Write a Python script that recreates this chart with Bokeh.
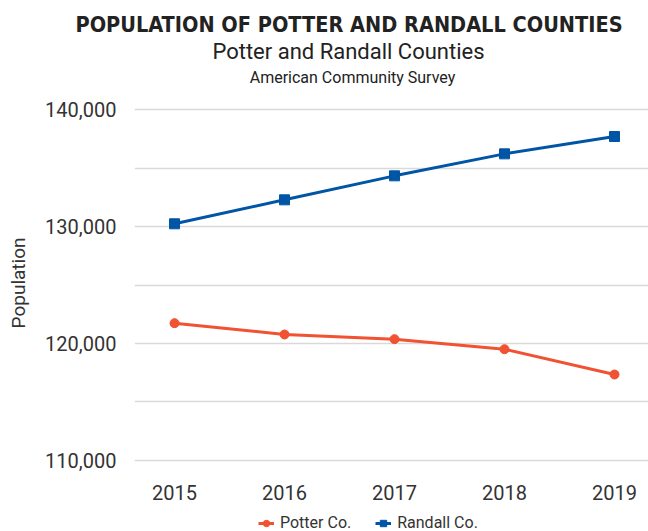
from bokeh.plotting import figure
from bokeh.models import (Range1d, FixedTicker, NumeralTickFormatter, Label, Title, Legend, LegendItem)
from bokeh.layouts import column
from bokeh.embed import file_html
from bokeh.resources import INLINE

years = [2015, 2016, 2017, 2018, 2019]
potter = [121735, 120770, 120370, 119510, 117350]
randall = [130230, 132280, 134330, 136210, 137690]
y_ticks = [110000, 120000, 130000, 140000]
y_minor = [115000, 125000, 135000]
series_names = ["Potter Co.", "Randall Co."]

title = "POPULATION OF POTTER AND RANDALL COUNTIES"
subtitle = "Potter and Randall Counties"
source = "American Community Survey"

POTTER_C = "#F05232"
RANDALL_C = "#0055A5"
FONT = "Roboto"
TXT = "#333333"

W = 648
LEFT = 134  # frame left offset shared by the column's aligned frames

# ---- header (titles) ----
top = figure(width=W, height=95, output_backend="svg", toolbar_location=None,
             x_range=Range1d(0, 1), y_range=Range1d(0, 1),
             x_axis_location=None, y_axis_location=None,
             min_border=0, min_border_left=0, min_border_right=0,
             min_border_top=36, min_border_bottom=0)
top.outline_line_color = None
top.xgrid.visible = False
top.ygrid.visible = False
top.add_layout(Title(text=title, align="left", offset=-59, vertical_align="bottom",
                     standoff=0, text_font="DejaVu Sans Condensed", text_font_size="21.5px",
                     text_font_style="bold", text_color="#222222"), "above")

def lab(fig, text, x, y, size, style="normal", font=FONT, color="#222222"):
    fig.add_layout(Label(x=x, y=y, x_units="screen", y_units="screen", text=text,
                         text_align="center", text_baseline="alphabetic",
                         text_font=font, text_font_size=size, text_font_style=style,
                         text_color=color))

lab(top, subtitle, 348 - LEFT, 44, "22px")
lab(top, source, 352 - LEFT, 18, "16px")

# ---- main chart ----
p = figure(width=W, height=410, output_backend="svg", toolbar_location=None,
           x_range=Range1d(2014.636, 2019.309), y_range=Range1d(109145, 141197),
           min_border_left=LEFT, min_border_right=0, min_border_top=0, min_border_bottom=35)
p.outline_line_color = None

p.xaxis.ticker = FixedTicker(ticks=years)
p.xaxis.axis_line_color = None
p.xaxis.major_tick_line_color = None
p.xaxis.minor_tick_line_color = None
p.xaxis.major_label_text_font = FONT
p.xaxis.major_label_text_font_size = "20px"
p.xaxis.major_label_text_color = TXT
p.xaxis.major_label_standoff = 8

p.yaxis.ticker = FixedTicker(ticks=y_ticks, minor_ticks=y_minor)
p.yaxis.formatter = NumeralTickFormatter(format="0,0")
p.yaxis.axis_line_color = None
p.yaxis.major_tick_line_color = None
p.yaxis.minor_tick_line_color = None
p.yaxis.major_label_text_font = FONT
p.yaxis.major_label_text_font_size = "20px"
p.yaxis.major_label_text_color = TXT
p.yaxis.major_label_standoff = 12
p.yaxis.axis_label = "Population"
p.yaxis.axis_label_text_font = FONT
p.yaxis.axis_label_text_font_size = "19px"
p.yaxis.axis_label_text_font_style = "normal"
p.yaxis.axis_label_text_color = TXT
p.yaxis.axis_label_standoff = 12

p.xgrid.grid_line_color = None
p.ygrid.grid_line_color = "#d9d9d9"
p.ygrid.grid_line_width = 1.5
p.ygrid.minor_grid_line_color = "#d9d9d9"
p.ygrid.minor_grid_line_width = 1.5

p.line(years, potter, line_color=POTTER_C, line_width=3)
p.scatter(years, potter, marker="circle", size=9, fill_color=POTTER_C, line_color=POTTER_C)
p.line(years, randall, line_color=RANDALL_C, line_width=3)
p.scatter(years, randall, marker="square", size=10, fill_color=RANDALL_C, line_color=RANDALL_C)

# ---- legend strip (same series, drawn outside this strip's ranges so only the legend shows) ----
leg = figure(width=W, height=26, output_backend="svg", toolbar_location=None,
             x_range=Range1d(0, 1), y_range=Range1d(0, 1),
             x_axis_location=None, y_axis_location=None,
             min_border=0, min_border_left=0, min_border_right=0,
             min_border_top=0, min_border_bottom=0)
leg.outline_line_color = None
leg.xgrid.visible = False
leg.ygrid.visible = False
l1 = leg.line(years, potter, line_color=POTTER_C, line_width=3)
m1 = leg.scatter(years, potter, marker="circle", size=9, fill_color=POTTER_C, line_color=POTTER_C)
l2 = leg.line(years, randall, line_color=RANDALL_C, line_width=3)
m2 = leg.scatter(years, randall, marker="square", size=10, fill_color=RANDALL_C, line_color=RANDALL_C)
legend = Legend(items=[LegendItem(label=series_names[0], renderers=[l1, m1]),
                       LegendItem(label=series_names[1], renderers=[l2, m2])],
                orientation="horizontal", location=(258 - LEFT, -1),
                label_text_font=FONT, label_text_font_size="16px", label_text_color=TXT,
                glyph_width=16, glyph_height=16, spacing=24, padding=0, margin=0,
                label_standoff=6, border_line_color=None, background_fill_alpha=0)
leg.add_layout(legend, "center")

layout = column(top, p, leg, spacing=0)
open("out.html", "w").write(file_html(layout, INLINE))
